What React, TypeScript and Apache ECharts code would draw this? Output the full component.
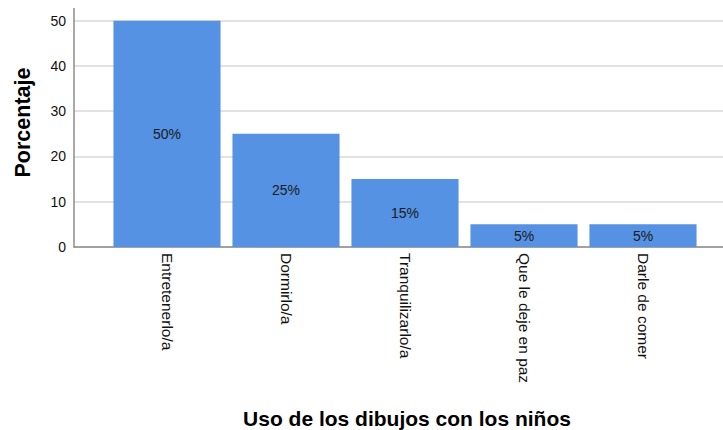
import React, { useEffect, useRef } from "react";
import * as echarts from "echarts";

const categories = ["Entretenerlo/a", "Dormirlo/a", "Tranquilizarlo/a", "Que le deje en paz", "Darle de comer"];
const percentages = [50, 25, 15, 5, 5];
const yTicks = [0, 10, 20, 30, 40, 50];
const xTitle = "Uso de los dibujos con los niños";
const yTitle = "Porcentaje";

const FONT = "Liberation Sans, Arial, sans-serif";

export default function App() {
  const ref = useRef<HTMLDivElement>(null);
  useEffect(() => {
    if (!ref.current) return;
    const chart = echarts.init(ref.current, null, { renderer: "svg" });
    const top = 20.7;
    const bottom = 183;
    chart.setOption({
      animation: false,
      backgroundColor: "#ffffff",
      grid: [
        { left: 74, right: 0, top, bottom },
        { left: 107.5, width: 595, top, bottom },
      ],
      xAxis: [
        {
          gridIndex: 0,
          type: "value",
          min: 0,
          max: 1,
          axisLine: { show: true, onZero: false, lineStyle: { color: "#8c8c8c", width: 1.5 } },
          axisTick: { show: false },
          axisLabel: { show: false },
          splitLine: { show: false },
        },
        {
          gridIndex: 1,
          type: "category",
          data: categories,
          axisLine: { show: false },
          axisTick: { show: false },
          axisLabel: {
            rotate: -90,
            interval: 0,
            margin: 6,
            color: "#111",
            fontSize: 15.5,
            fontFamily: FONT,
          },
        },
      ],
      yAxis: [
        {
          gridIndex: 0,
          type: "value",
          min: yTicks[0],
          max: yTicks[yTicks.length - 1],
          interval: 10,
          axisLine: { show: true, lineStyle: { color: "#8c8c8c", width: 1.5 } },
          axisTick: { show: false },
          axisLabel: { color: "#111", fontSize: 14, fontFamily: FONT, margin: 8 },
          splitLine: { show: true, lineStyle: { color: "#d9d9d9", width: 1.5 } },
        },
        {
          gridIndex: 1,
          type: "value",
          min: yTicks[0],
          max: yTicks[yTicks.length - 1],
          show: false,
        },
      ],
      series: [
        {
          type: "bar",
          xAxisIndex: 1,
          yAxisIndex: 1,
          data: percentages,
          barCategoryGap: "10%",
          itemStyle: { color: "#5592e3" },
          label: {
            show: true,
            position: "inside",
            formatter: (p: any) => `${p.value}%`,
            color: "#1a1a1a",
            fontSize: 14,
            fontFamily: FONT,
          },
        },
      ],
      graphic: [
        {
          type: "line",
          shape: { x1: 74, y1: 8, x2: 74, y2: top },
          style: { stroke: "#8c8c8c", lineWidth: 1.5 },
        },
        {
          type: "text",
          x: 23,
          y: 122.5,
          rotation: Math.PI / 2,
          style: {
            text: yTitle,
            fontSize: 21.5,
            fontWeight: "bold",
            fontFamily: FONT,
            fill: "#000",
            align: "center",
            verticalAlign: "middle",
          },
        },
        {
          type: "text",
          x: 407,
          y: 418,
          style: {
            text: xTitle,
            fontSize: 21,
            fontWeight: "bold",
            fontFamily: FONT,
            fill: "#000",
            align: "center",
            verticalAlign: "middle",
          },
        },
      ],
    });
    return () => chart.dispose();
  }, []);
  return <div ref={ref} style={{ width: 723, height: 430, position: "fixed", left: 0, top: 0 }} />;
}
